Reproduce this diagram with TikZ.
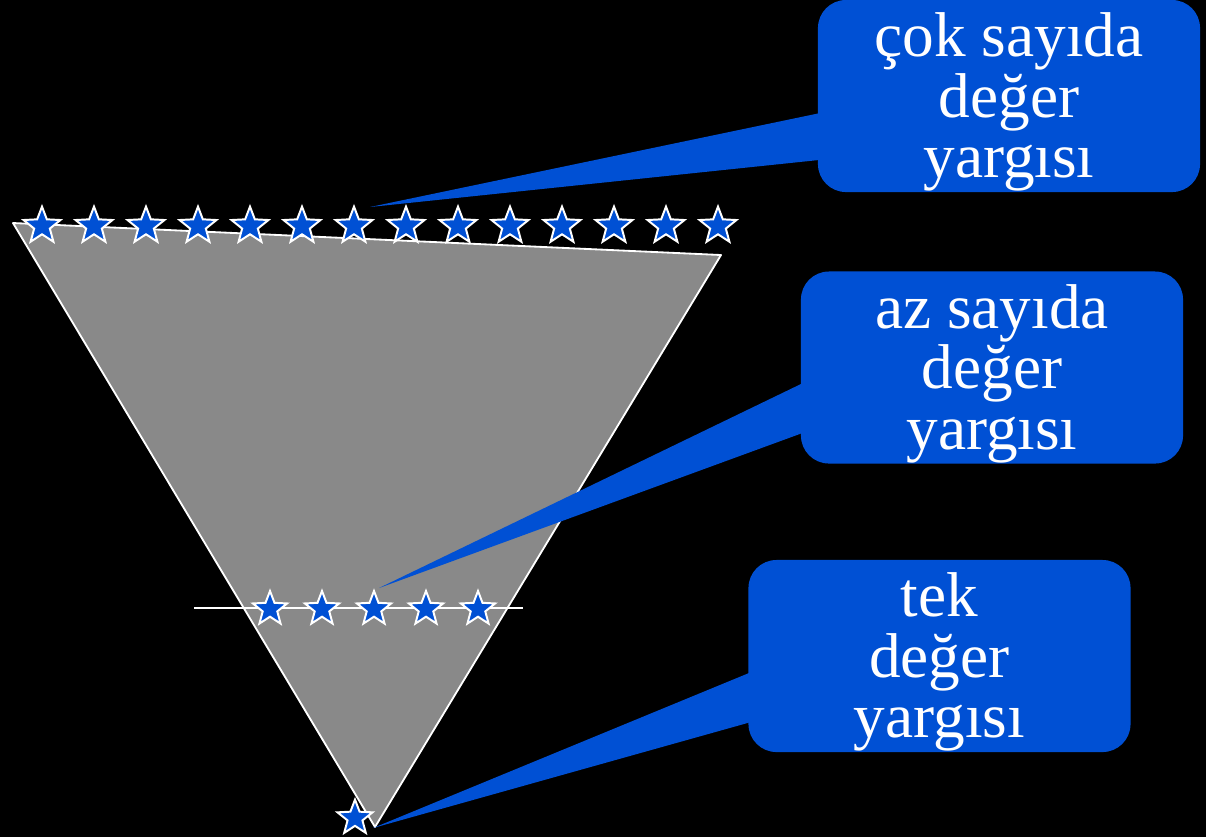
\documentclass[tikz,border=0pt]{standalone}
\usepackage{fontspec}
\setmainfont{Liberation Serif}
\usetikzlibrary{shapes.geometric,calc}
\definecolor{bubbleblue}{RGB}{0,80,212}
\definecolor{funnelgray}{RGB}{137,137,137}

\begin{document}
\begin{tikzpicture}[x=0.025cm, y=-0.025cm,
    starmark/.style = {star, star points=5, star point ratio=2.35, draw=white, line width=1.4pt,
                       fill=bubbleblue, inner sep=0, minimum size=0.97cm},
    bubble/.style = {fill=bubbleblue, rounded corners=0.7cm, text=white, align=center,
                     minimum width=9.55cm, minimum height=4.8cm, inner sep=0,
                     font=\fontsize{45pt}{43pt}\selectfont},
    callout/.style = {fill=bubbleblue}]
    \fill[black] (0,0) rectangle (1206,837);
    % funnel
    \filldraw[fill=funnelgray, draw=white, line width=1.3pt, line join=round]
      (13,223) -- (721,255) -- (375,827) -- cycle;
    \draw[white, line width=1.3pt] (194,608) -- (523,608);
    % stars
    \foreach \i in {0,...,13}
      \node[starmark] (many\i) at (42+52*\i, 226) {};
    \foreach \i in {0,...,4}
      \node[starmark, minimum size=0.9cm] (few\i) at (270+52*\i, 609) {};
    \node[starmark, minimum size=0.92cm] (one) at (355,818) {};
    % bubbles
    \node[bubble] (cok) at (1009, 96)  {\rule{0pt}{40pt}çok sayıda\\değer\\yargısı};
    \node[bubble] (az)  at (992, 367.5) {\rule{0pt}{40pt}az sayıda\\değer\\yargısı};
    \node[bubble] (tek) at (939.5, 656) {\rule{0pt}{40pt}tek\\değer\\yargısı};
    \coordinate (tipcok) at (370,207);
    \coordinate (tipaz)  at (379,588);
    \coordinate (tiptek) at (373,828);
    \fill[callout] ($(cok.north west)+(4,113)$) -- (tipcok) -- ($(cok.north west)+(4,160)$) -- cycle;
    \fill[callout] ($(az.north west)+(4,111)$)  -- (tipaz)  -- ($(az.north west)+(4,161)$)  -- cycle;
    \fill[callout] ($(tek.north west)+(4,112)$) -- (tiptek) -- ($(tek.north west)+(4,162)$) -- cycle;
\end{tikzpicture}
\end{document}
